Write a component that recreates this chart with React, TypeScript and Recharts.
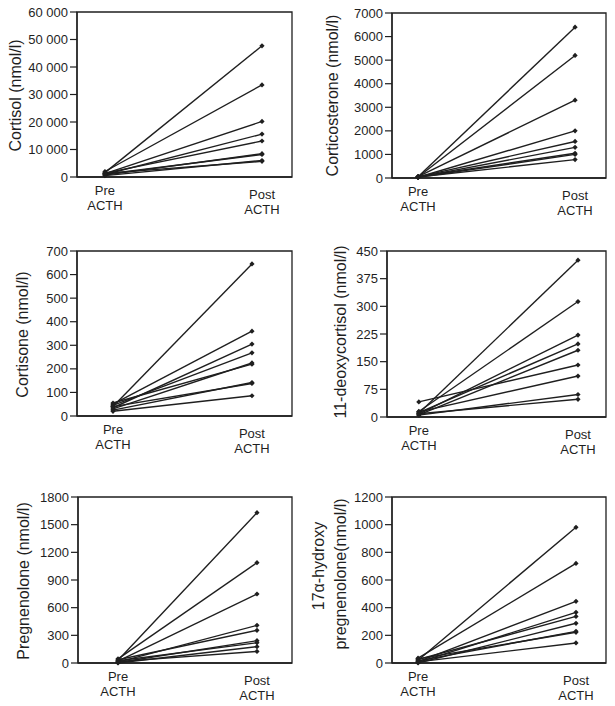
import React from "react"
import { LineChart, Line, XAxis, YAxis, ReferenceArea } from "recharts"

// tick labels for the two time points (x = 0 and x = 1)
const phaseLabels = [
  ["Pre", "ACTH"],
  ["Post", "ACTH"],
]

// values per subject (nmol/l)
const cortisolPre = [1600, 2000, 1200, 900, 1400, 700, 1000, 500, 1300]
const cortisolPost = [47700, 33500, 20200, 15600, 13100, 8500, 8200, 6000, 5700]

const corticosteronePre = [50, 40, 60, 30, 45, 35, 55, 25, 40]
const corticosteronePost = [6400, 5200, 3300, 2000, 1550, 1300, 1050, 1000, 780]

const cortisonePre = [40, 50, 35, 45, 30, 55, 25, 40, 20]
const cortisonePost = [645, 360, 305, 268, 225, 220, 142, 138, 86]

const deoxycortisolPre = [10, 15, 8, 12, 6, 41, 14, 5, 9]
const deoxycortisolPost = [425, 313, 222, 198, 181, 141, 111, 61, 48]

const pregnenolonePre = [30, 45, 20, 10, 35, 5, 25, 0, 15]
const pregnenolonePost = [1630, 1088, 748, 408, 354, 242, 220, 177, 126]

const hydroxyPregPre = [20, 35, 10, 5, 25, 0, 15, 30, 8]
const hydroxyPregPost = [981, 720, 446, 366, 337, 287, 229, 222, 145]

const cortisolTicks = [0, 10000, 20000, 30000, 40000, 50000, 60000]
const corticosteroneTicks = [0, 1000, 2000, 3000, 4000, 5000, 6000, 7000]
const cortisoneTicks = [0, 100, 200, 300, 400, 500, 600, 700]
const deoxycortisolTicks = [0, 75, 150, 225, 300, 375, 450]
const pregnenoloneTicks = [0, 300, 600, 900, 1200, 1500, 1800]
const hydroxyPregTicks = [0, 200, 400, 600, 800, 1000, 1200]

const INK = "#1f1f1f"

const buildRows = (pre: number[], post: number[]) => {
  const a: Record<string, number> = { x: 0 }
  const b: Record<string, number> = { x: 1 }
  pre.forEach((v, i) => (a["s" + i] = v))
  post.forEach((v, i) => (b["s" + i] = v))
  return [a, b]
}

const spaced = (v: number) => (v === 0 ? "0" : `${v / 1000} 000`)

const panels = [
  {
    label: ["Cortisol (nmol/l)"], labelX: [15], labelDy: [1],
    pre: cortisolPre, post: cortisolPost, ticks: cortisolTicks, fmt: spaced,
    left: 0, top: 0, width: 307, height: 230, yw: 77,
    margin: { top: 12, right: 15, bottom: 13, left: 0 }, xDomain: [-0.178, 1.191],
  },
  {
    label: ["Corticosterone (nmol/l)"], labelX: [25], labelDy: [0],
    pre: corticosteronePre, post: corticosteronePost, ticks: corticosteroneTicks,
    left: 307, top: 0, width: 308, height: 230, yw: 85,
    margin: { top: 13, right: 9, bottom: 12, left: 0 }, xDomain: [-0.166, 1.197],
  },
  {
    label: ["Cortisone (nmol/l)"], labelX: [22], labelDy: [1],
    pre: cortisonePre, post: cortisonePost, ticks: cortisoneTicks,
    left: 0, top: 230, width: 307, height: 230, yw: 77,
    margin: { top: 21, right: 15, bottom: 4, left: 0 }, xDomain: [-0.259, 1.288],
  },
  {
    label: ["11-deoxycortisol (nmol/l)"], labelX: [33], labelDy: [-2],
    pre: deoxycortisolPre, post: deoxycortisolPost, ticks: deoxycortisolTicks,
    left: 307, top: 230, width: 308, height: 230, yw: 80,
    margin: { top: 21, right: 9, bottom: 3, left: 0 }, xDomain: [-0.2, 1.176],
  },
  {
    label: ["Pregnenolone (nmol/l)"], labelX: [23], labelDy: [1],
    pre: pregnenolonePre, post: pregnenolonePost, ticks: pregnenoloneTicks,
    left: 0, top: 460, width: 307, height: 246, yw: 78,
    margin: { top: 37, right: 15, bottom: 3, left: 0 }, xDomain: [-0.288, 1.252],
  },
  {
    label: ["17\u03b1-hydroxy", "pregnenolone(nmol/l)"], labelX: [11, 33], labelDy: [-14, -6],
    pre: hydroxyPregPre, post: hydroxyPregPost, ticks: hydroxyPregTicks,
    left: 307, top: 460, width: 308, height: 246, yw: 85,
    margin: { top: 37, right: 9, bottom: 3, left: 0 }, xDomain: [-0.165, 1.19],
  },
]

const Diamond = (props: any) => {
  const { cx, cy } = props
  if (cx == null || cy == null) return <g />
  const r = 2.6
  return <path d={`M${cx},${cy - r}L${cx + r},${cy}L${cx},${cy + r}L${cx - r},${cy}Z`} fill={INK} />
}

const PhaseTick = (props: any) => {
  const { x, y, payload } = props
  const lines = phaseLabels[payload.value] || []
  const shift = payload.value === 1 ? 4 : 0
  return (
    <g>
      {lines.map((t, i) => (
        <text key={i} x={x} y={y + 18 + shift + i * 14.5} textAnchor="middle" fontSize={13} fill={INK}>
          {t}
        </text>
      ))}
    </g>
  )
}

const yLabel = (p: (typeof panels)[number]) => (props: any) => {
  const vb = props.viewBox || { y: 0, height: 0 }
  const mid = vb.y + vb.height / 2
  return (
    <g>
      {p.label.map((t, i) => {
        const x = p.labelX[i] + 5.5
        const y = mid + p.labelDy[i]
        return (
          <text key={i} x={x} y={y} transform={`rotate(-90 ${x} ${y})`} textAnchor="middle" fontSize={16} fill={INK}>
            {t}
          </text>
        )
      })}
    </g>
  )
}

const Panel = ({ p }: { p: (typeof panels)[number] }) => {
  const rows = buildRows(p.pre, p.post)
  const yMax = p.ticks[p.ticks.length - 1]
  return (
    <div style={{ position: "absolute", left: p.left, top: p.top }}>
      <LineChart width={p.width} height={p.height} data={rows} margin={p.margin}>
        <XAxis
          dataKey="x"
          type="number"
          domain={p.xDomain}
          ticks={[0, 1]}
          allowDataOverflow
          height={40}
          tickLine={false}
          tickSize={0}
          tickMargin={0}
          tick={<PhaseTick />}
          axisLine={{ stroke: INK, strokeWidth: 1.3 }}
        />
        <YAxis
          type="number"
          domain={[0, yMax]}
          ticks={p.ticks}
          interval={0}
          width={p.yw}
          tickSize={7}
          tickMargin={2}
          tickFormatter={p.fmt}
          tick={{ fontSize: 13, fill: INK }}
          tickLine={{ stroke: INK, strokeWidth: 1.2 }}
          axisLine={{ stroke: INK, strokeWidth: 1.3 }}
          label={{ content: yLabel(p) }}
        />
        <ReferenceArea
          x1={p.xDomain[0]}
          x2={p.xDomain[1]}
          y1={0}
          y2={yMax}
          fill="none"
          fillOpacity={0}
          stroke={INK}
          strokeWidth={1.3}
          ifOverflow="visible"
        />
        {p.post.map((_, i) => (
          <Line
            key={i}
            dataKey={"s" + i}
            type="linear"
            stroke={INK}
            strokeWidth={1.4}
            dot={<Diamond />}
            activeDot={false}
            isAnimationActive={false}
          />
        ))}
      </LineChart>
    </div>
  )
}

export default function App() {
  return (
    <div
      style={{
        position: "absolute",
        left: 0,
        top: 0,
        width: 615,
        height: 706,
        background: "#fff",
        fontFamily: "'Liberation Sans', Arial, Helvetica, sans-serif",
      }}
    >
      {panels.map((p, i) => (
        <Panel key={i} p={p} />
      ))}
    </div>
  )
}
